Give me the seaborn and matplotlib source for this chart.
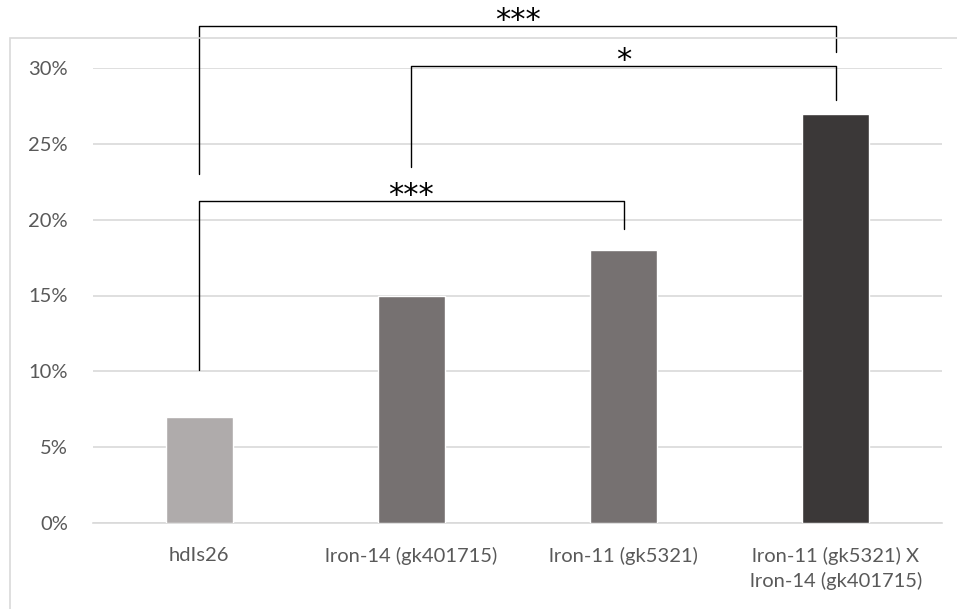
"""
Bar chart of percentages per strain with significance brackets.
"""

import matplotlib.pyplot as plt
from matplotlib.patches import Rectangle
from matplotlib.ticker import PercentFormatter
import pandas as pd
import seaborn as sns

sns.set_theme(style="white")
plt.rcParams["font.family"] = ["Lato", "DejaVu Sans"]

strains = [
    "hdIs26",
    "lron-14 (gk401715)",
    "lron-11 (gk5321)",
    "lron-11 (gk5321) X\nlron-14 (gk401715)",
]
percent = [7, 15, 18, 27]
bar_colors = ["#AFABAB", "#767171", "#767171", "#3B3838"]

# brackets: left category, right category, bar height, left leg end, right leg end, label
bracket_left = [0, 1, 0]
bracket_right = [3, 3, 2]
bracket_top = [32.8, 30.15, 21.25]
leg_left = [23.0, 23.5, 10.1]
leg_right = [31.05, 27.9, 19.4]
bracket_labels = ["***", "*", "***"]

df = pd.DataFrame({"strain": strains, "percent": percent})

fig = plt.figure(figsize=(9.57, 6.09), dpi=100)
ax = fig.add_axes([93 / 957, 86 / 609, 849 / 957, 455 / 609])

# chart area border
fig.patches.append(Rectangle((10 / 957, -0.1), 1.2, (609 - 38) / 609 + 0.1,
                             transform=fig.transFigure, fill=False,
                             edgecolor="#D9D9D9", linewidth=1.2, zorder=0))

sns.barplot(data=df, x="strain", y="percent", hue="strain", palette=bar_colors,
            width=0.315, saturation=1, legend=False, ax=ax, zorder=3)

ax.set_ylim(0, 30)
ax.set_xlim(-0.5, 3.5)
ax.set_yticks(range(0, 31, 5))
ax.yaxis.set_major_formatter(PercentFormatter(decimals=0))
ax.grid(axis="y", color="#D9D9D9", linewidth=1.2, zorder=0)
for side in ["top", "right", "left"]:
    ax.spines[side].set_visible(False)
ax.spines["bottom"].set_color("#D9D9D9")
ax.spines["bottom"].set_linewidth(1.2)
ax.set_xlabel("")
ax.set_ylabel("")
ax.tick_params(axis="both", length=0, labelsize=14.5, colors="#595959")
ax.tick_params(axis="x", pad=17)
ax.tick_params(axis="y", pad=18)
for lab in ax.get_xticklabels():
    lab.set_linespacing(1.45)

for x0, x1, top, y0, y1, lab in zip(bracket_left, bracket_right, bracket_top,
                                     leg_left, leg_right, bracket_labels):
    ax.plot([x0, x0, x1, x1], [y0, top, top, y1], color="black",
            linewidth=1.0, clip_on=False, zorder=5)
    ax.text((x0 + x1) / 2, top - 0.6, lab, ha="center", va="bottom",
            fontsize=22, family="DejaVu Sans", color="black")

fig.savefig("out.png", dpi=100)
